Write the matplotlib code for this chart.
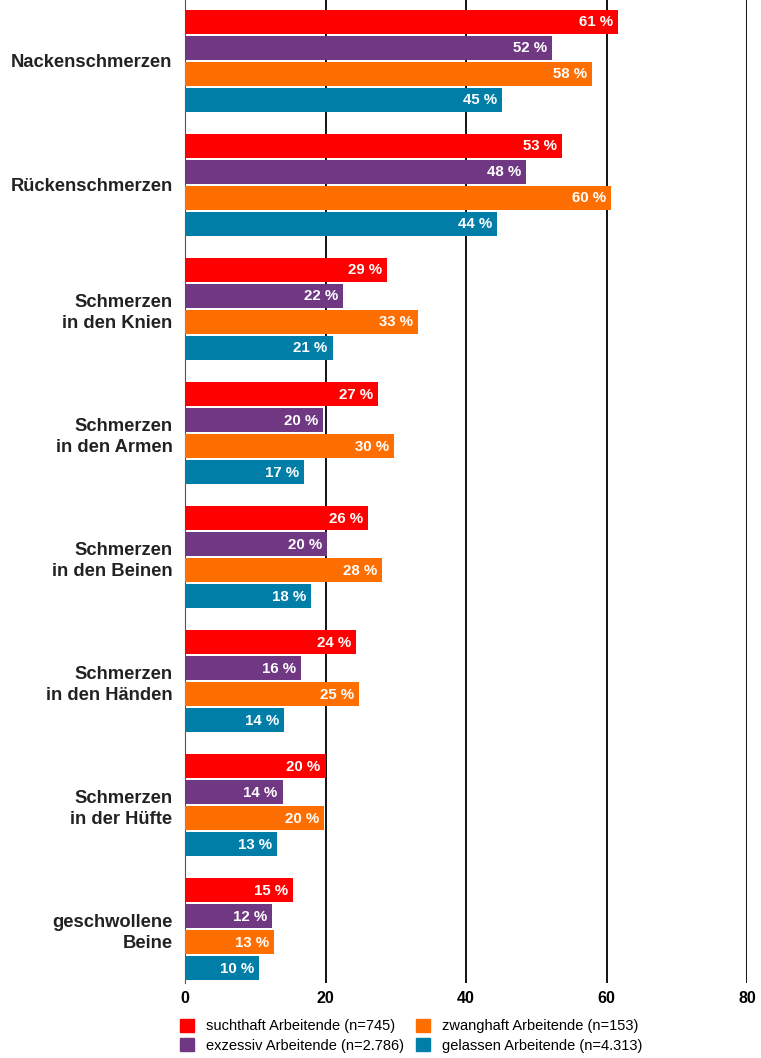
import numpy as np
import matplotlib
matplotlib.use('Agg')
from matplotlib import pyplot as plt
from matplotlib.patches import Patch

# Kategorien (von oben nach unten)
categories = ['Nackenschmerzen', 'Rückenschmerzen', 'Schmerzen\nin den Knien',
              'Schmerzen\nin den Armen', 'Schmerzen\nin den Beinen',
              'Schmerzen\nin den Händen', 'Schmerzen\nin der Hüfte',
              'geschwollene\nBeine']

series_names = ['suchthaft Arbeitende (n=745)', 'exzessiv Arbeitende (n=2.786)',
                'zwanghaft Arbeitende (n=153)', 'gelassen Arbeitende (n=4.313)']

# Balkenlängen (aus dem Bild geschätzt) und beschriftete Werte
suchthaft = [61.7, 53.6, 28.7, 27.5, 26.0, 24.3, 20.0, 15.4]
exzessiv = [52.3, 48.6, 22.5, 19.6, 20.2, 16.5, 13.9, 12.4]
zwanghaft = [58.0, 60.6, 33.1, 29.7, 28.0, 24.8, 19.8, 12.7]
gelassen = [45.1, 44.4, 21.0, 16.9, 17.9, 14.1, 13.1, 10.5]

lab_suchthaft = [61, 53, 29, 27, 26, 24, 20, 15]
lab_exzessiv = [52, 48, 22, 20, 20, 16, 14, 12]
lab_zwanghaft = [58, 60, 33, 30, 28, 25, 20, 13]
lab_gelassen = [45, 44, 21, 17, 18, 14, 13, 10]

colors = ['#ff0000', '#703782', '#ff6e00', '#007ea8']
xticks = [0, 20, 40, 60, 80]

values = [suchthaft, exzessiv, zwanghaft, gelassen]
labels = [lab_suchthaft, lab_exzessiv, lab_zwanghaft, lab_gelassen]

fnt = ['Liberation Sans', 'DejaVu Sans']

fig = plt.figure(figsize=(7.61, 10.58), dpi=100)
ax = fig.add_axes([185 / 761, 1 - 983 / 1058, (747 - 185) / 761, 983 / 1058])

group_pitch = 4.77
first = 2.33
centers = first + group_pitch * np.arange(len(categories))

for k, (vals, labs) in enumerate(zip(values, labels)):
    ys = centers - 1.5 + k
    ax.barh(ys, vals, height=0.92, color=colors[k], zorder=3)
    for y, v, l in zip(ys, vals, labs):
        ax.text(v - 0.7, y + 0.03, f'{l} %', ha='right', va='center', color='white',
                fontsize=10.8, fontweight='bold', family=fnt, zorder=4)

ax.set_ylim(37.8, 0)
ax.set_xlim(0, 80)
ax.set_yticks(centers)
ax.set_yticklabels(categories, fontsize=13.2, fontweight='bold', family=fnt,
                   color='#222222', linespacing=1.3)
ax.set_xticks(xticks)
ax.set_xticklabels([str(t) for t in xticks], fontsize=11.5, fontweight='bold',
                   family=fnt)
ax.tick_params(axis='y', length=0, pad=9)
ax.tick_params(axis='x', length=0, pad=6)
ax.grid(axis='x', color='black', linewidth=1.3, zorder=0)
for s in ['top', 'right', 'bottom']:
    ax.spines[s].set_visible(False)
ax.spines['left'].set_color('#555555')
ax.spines['left'].set_linewidth(0.8)

handles = [Patch(color=c) for c in colors]
fig.legend(handles, series_names, ncol=2, loc='upper left',
           bbox_to_anchor=(180 / 761, 1 - 1019 / 1058), frameon=False,
           prop={'family': fnt, 'size': 10.5}, handlelength=0.95,
           handleheight=0.95, handletextpad=0.85, columnspacing=0.8,
           labelspacing=0.35, borderpad=0, borderaxespad=0)

fig.savefig('out.png', dpi=100)
